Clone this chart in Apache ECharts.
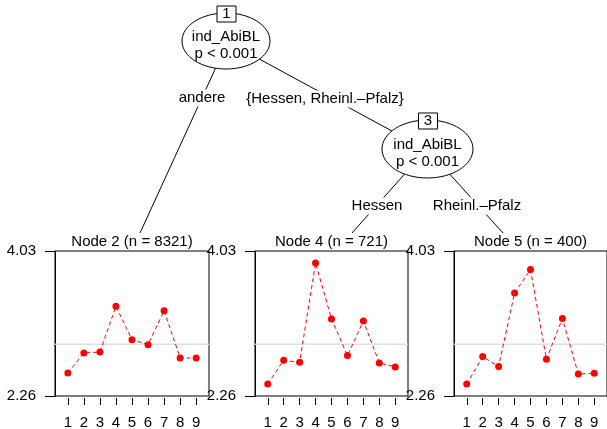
<!DOCTYPE html>
<html>
<head>
<meta charset="utf-8">
<script src="https://cdn.jsdelivr.net/npm/echarts@6/dist/echarts.min.js"></script>
<style>
  html, body { margin: 0; padding: 0; background: #fff; }
  #chart { width: 607px; height: 429px; }
</style>
</head>
<body>
<div id="chart"></div>
<script>
// Daten
const positions = [1, 2, 3, 4, 5, 6, 7, 8, 9];
const node2Values = [2.54, 2.785, 2.797, 3.355, 2.948, 2.887, 3.302, 2.724, 2.724];
const node4Values = [2.406, 2.696, 2.671, 3.883, 3.2, 2.753, 3.176, 2.663, 2.614];
const node5Values = [2.406, 2.741, 2.619, 3.517, 3.803, 2.708, 3.205, 2.529, 2.537];
const overallMean = 2.891;
const yMin = 2.26;
const yMax = 4.03;
const panelTitles = ['Node 2 (n = 8321)', 'Node 4 (n = 721)', 'Node 5 (n = 400)'];
const splitVar = 'ind_AbiBL';
const splitP = 'p < 0.001';
const edgeLabels = ['andere', '{Hessen, Rheinl.–Pfalz}', 'Hessen', 'Rheinl.–Pfalz'];

const FONT = "'Liberation Sans', Arial, sans-serif";
const chart = echarts.init(document.getElementById('chart'));

// Panel-Layout (Pixel)
const panels = [
  { left: 55, width: 154, values: node2Values },
  { left: 255, width: 153, values: node4Values },
  { left: 454, width: 153, values: node5Values }
];
const panelTop = 251;
const panelHeight = 145;

const grids = [], xAxes = [], yAxes = [], series = [];
panels.forEach((p, i) => {
  grids.push({
    left: p.left, top: panelTop, width: p.width, height: panelHeight,
    outerBoundsMode: 'none', containLabel: false,
    show: true, borderColor: '#000', borderWidth: 1, backgroundColor: 'transparent'
  });
  xAxes.push({
    type: 'value', gridIndex: i, min: 0.2, max: 9.8, offset: 2,
    axisLine: { show: false },
    splitLine: { show: false },
    axisTick: { show: true, length: 7, customValues: positions, lineStyle: { color: '#000' } },
    axisLabel: { customValues: positions, color: '#000', fontSize: 15, fontFamily: FONT, margin: 17 }
  });
  yAxes.push({
    type: 'value', gridIndex: i, min: yMin, max: yMax,
    axisLine: { show: true, lineStyle: { color: '#000' } },
    splitLine: { show: false },
    axisTick: { show: true, length: 10, customValues: [yMin, yMax], lineStyle: { color: '#000' } },
    axisLabel: {
      customValues: [yMin, yMax], color: '#000', fontSize: 15, fontFamily: FONT, margin: 19,
      formatter: v => v.toFixed(2)
    }
  });
  // Referenzlinie (Gesamtmittel)
  series.push({
    type: 'line', xAxisIndex: i, yAxisIndex: i, z: 1,
    data: [[0.2, overallMean], [9.8, overallMean]],
    symbol: 'none', silent: true,
    lineStyle: { color: '#e0e0e0', width: 1.5 }
  });
  series.push({
    type: 'line', xAxisIndex: i, yAxisIndex: i, z: 3,
    data: positions.map((x, k) => [x, p.values[k]]),
    symbol: 'circle', symbolSize: 7,
    itemStyle: { color: '#ff0000' },
    lineStyle: { color: '#ff0000', width: 1, type: [4, 3] }
  });
});

// Baum (Knoten, Kanten, Beschriftungen)
const txt = (x, y, text, bg) => ({
  type: 'text', x: x, y: y, z: 10,
  style: {
    text: text, fill: '#000', font: '15px ' + FONT, align: 'center', verticalAlign: 'middle',
    backgroundColor: bg ? '#fff' : null, padding: bg ? [1, 2] : 0
  }
});
const edge = (x1, y1, x2, y2) => ({
  type: 'line', z: 5, shape: { x1, y1, x2, y2 }, style: { stroke: '#000', lineWidth: 1 }
});
const innerNode = (cx, cy, rx, ry, id) => ([
  { type: 'ellipse', z: 20, shape: { cx, cy, rx, ry }, style: { fill: '#fff', stroke: '#000', lineWidth: 1 } },
  Object.assign(txt(cx, cy - 4, splitVar), { z: 21 }),
  Object.assign(txt(cx, cy + 13, splitP), { z: 21 }),
  { type: 'rect', z: 22, shape: { x: cx - 9, y: cy - ry - 7, width: 19, height: 16 }, style: { fill: '#fff', stroke: '#000', lineWidth: 1 } },
  Object.assign(txt(cx + 0.5, cy - ry + 1, id), { z: 23 })
]);

const graphics = [
  edge(228, 41, 140, 233),
  edge(226, 41, 427, 150),
  edge(427, 149, 352, 233),
  edge(427, 149, 503, 233),
  txt(202, 98, edgeLabels[0], true),
  txt(325, 99, edgeLabels[1], true),
  txt(377, 206, edgeLabels[2], true),
  txt(477, 206, edgeLabels[3], true),
  ...innerNode(226, 41, 44, 28, '1'),
  ...innerNode(427.5, 149, 45.5, 29, '3')
];
panels.forEach((p, i) => {
  graphics.push(txt(p.left + p.width / 2, 242, panelTitles[i]));
});

chart.setOption({
  animation: false,
  backgroundColor: '#fff',
  textStyle: { fontFamily: FONT },
  grid: grids,
  xAxis: xAxes,
  yAxis: yAxes,
  series: series,
  graphic: graphics
});
</script>
</body>
</html>
